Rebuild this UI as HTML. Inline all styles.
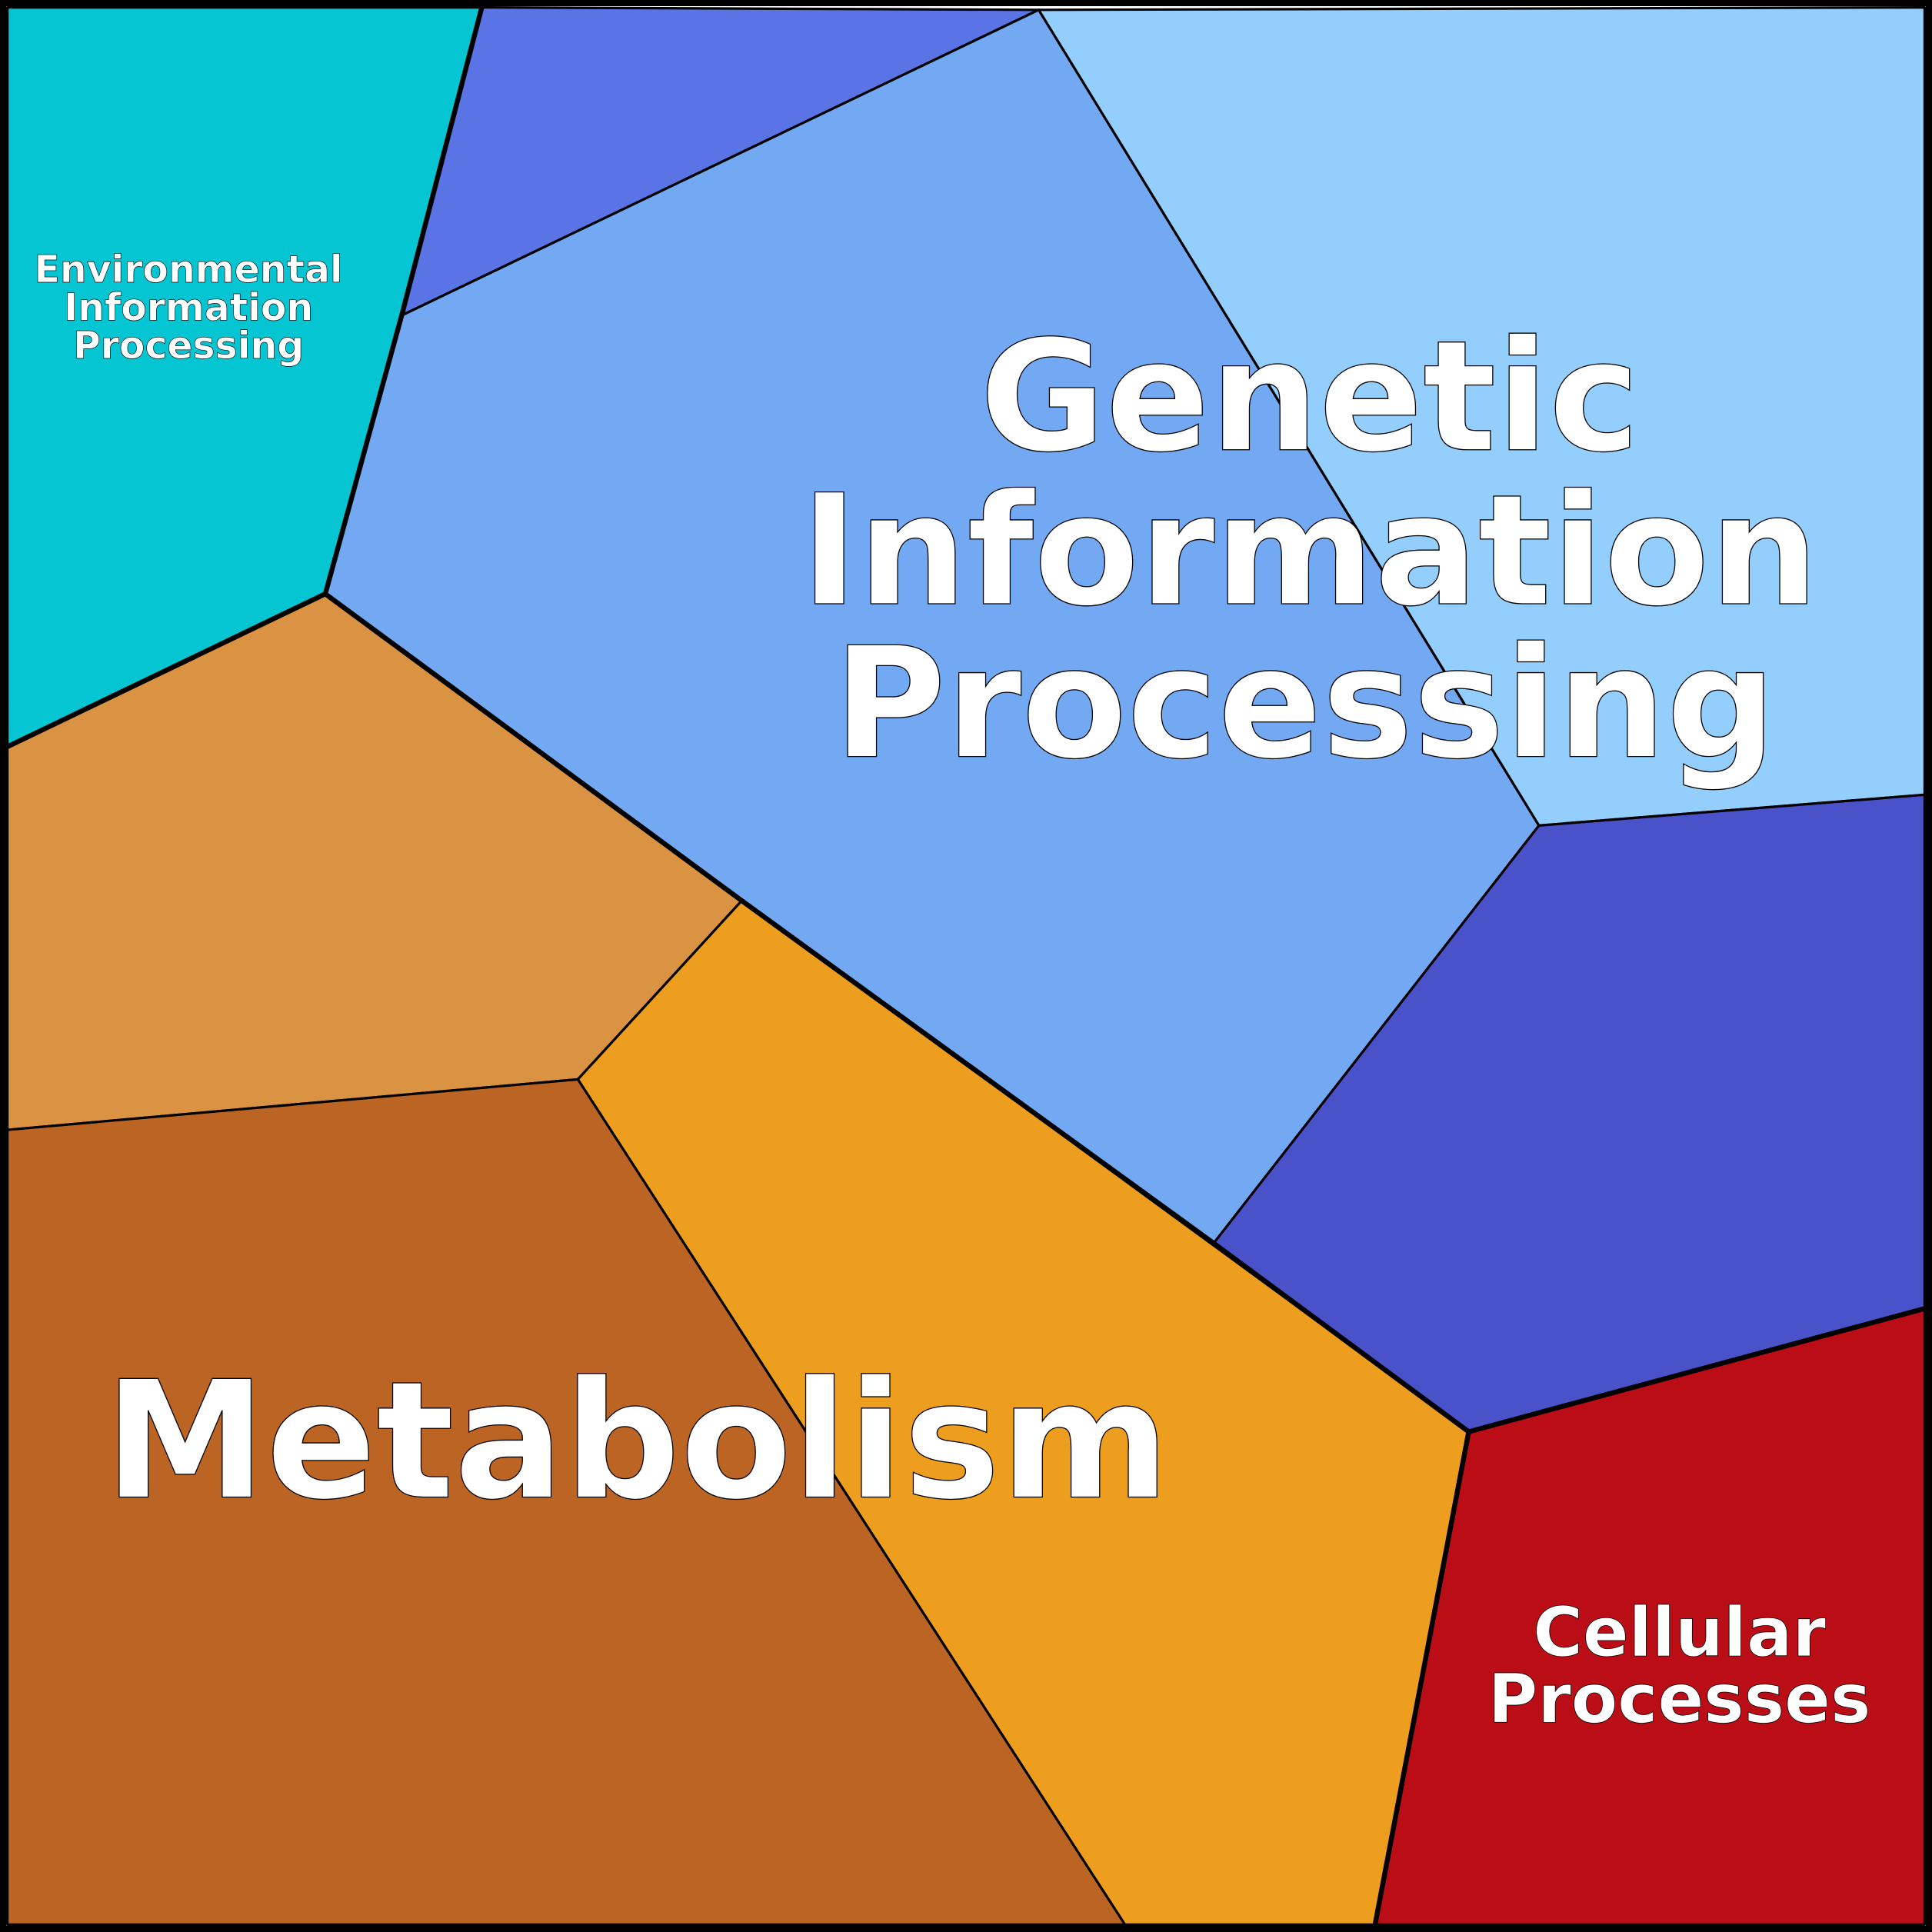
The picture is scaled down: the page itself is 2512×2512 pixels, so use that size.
<!DOCTYPE html>
<html><head><meta charset="utf-8"><style>html,body{margin:0;padding:0;background:#fff}svg{display:block}</style></head>
<body>
<svg width="2512" height="2512" viewBox="0 0 1568 1568" xmlns="http://www.w3.org/2000/svg">
<g stroke="#000" stroke-width="2" stroke-linejoin="round">
<polygon points="6,6 391,6 326,256 264,482 6,606" fill="#05c5d3"/>
<polygon points="391,6 843,8 326,256" fill="#5a74e6"/>
<polygon points="326,256 843,8 1249,670 985,1009 602,731 264,482" fill="#72a9f2"/>
<polygon points="843,8 1562,6 1562,645 1249,670" fill="#93cefc"/>
<polygon points="1249,670 1562,645 1562,1062 1192,1162 985,1009" fill="#4a52c9"/>
<polygon points="6,606 264,482 602,731 469,876 6,917" fill="#da9343"/>
<polygon points="602,731 1192,1162 1116,1562 913,1562 469,876" fill="#ee9e1e"/>
<polygon points="6,917 469,876 913,1562 6,1562" fill="#bb6423"/>
<polygon points="1192,1162 1562,1062 1562,1562 1116,1562" fill="#bb0d16"/>
</g>
<g stroke="#000" stroke-width="4" fill="none" stroke-linejoin="round">
<polyline points="6,606 264,482 326,256 391,6"/>
<polyline points="264,482 602,731 985,1009 1192,1162 1562,1062"/>
<polyline points="1192,1162 1116,1562"/>
</g>
<rect x="2.5" y="2.5" width="1563" height="1563" fill="none" stroke="#000" stroke-width="5"/>
<g font-family="'DejaVu Sans','Liberation Sans',sans-serif" font-weight="bold" fill="#fff" stroke="#000" stroke-width="0.8" text-anchor="middle">
<text font-size="124.5"><tspan x="1063" y="365">Genetic</tspan><tspan x="1063" y="490">Information</tspan><tspan x="1059" y="614">Processing</tspan></text>
<text font-size="132" x="517" y="1215">Metabolism</text>
<text font-size="30.5" stroke-width="0.4"><tspan x="153" y="229">Environmental</tspan><tspan x="153" y="260">Information</tspan><tspan x="153" y="291">Processing</tspan></text>
<text font-size="55" stroke-width="0.5"><tspan x="1363" y="1344">Cellular</tspan><tspan x="1363" y="1398">Processes</tspan></text>
</g>
</svg>
</body></html>
